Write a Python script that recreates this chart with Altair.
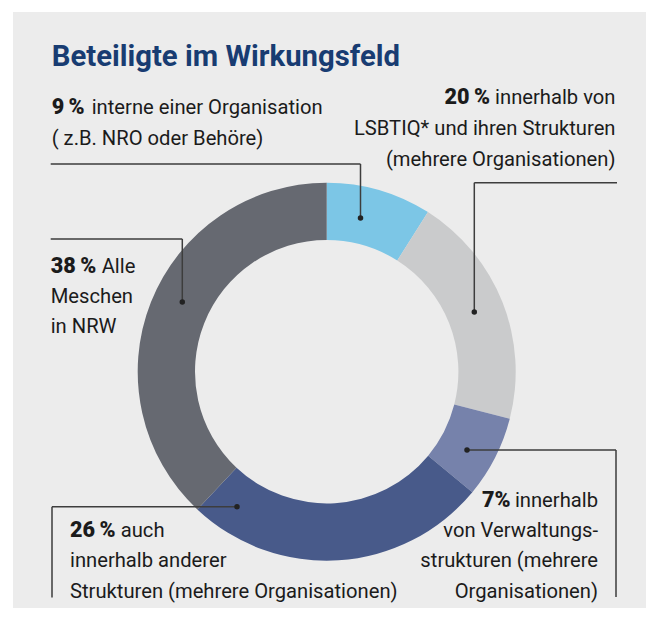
import altair as alt
import pandas as pd

# ---- data ----
categories = [
    "interne einer Organisation",
    "innerhalb von LSBTIQ* und ihren Strukturen",
    "innerhalb von Verwaltungsstrukturen",
    "auch innerhalb anderer Strukturen",
    "Alle Meschen in NRW",
]
shares = [9, 20, 7, 26, 38]
colors = ["#7cc6e6", "#cacbcc", "#7682ab", "#485a8a", "#666971"]

title_text = "Beteiligte im Wirkungsfeld"
pct_labels = ["9\u2009%", "20\u2009%", "7%", "26\u2009%", "38\u2009%"]

# ---- layout (chart pixel coords; page = chart + 8) ----
W, H = 638, 600
OFF = 8
def P(v):
    return v - OFF

CX, CY = P(326.7), P(371.7)
R_OUT, R_IN = 189, 131.7
FONT = "Roboto"
FS = 20.2
FS_BOLD = 21.6
TXT = "#1b1b1b"
LINE = "#3d3d3d"

arc_df = pd.DataFrame({"cat": categories, "value": shares, "idx": list(range(len(shares)))})

bold_left = pd.DataFrame([
    {"x": P(51.7), "y": P(114.3), "t": pct_labels[0]},
    {"x": P(70), "y": P(537.3), "t": pct_labels[3]},
    {"x": P(50.7), "y": P(272.7), "t": pct_labels[4]},
])
bold_right = pd.DataFrame([
    {"x": P(490), "y": P(104), "t": pct_labels[1]},
    {"x": P(510.5), "y": P(507), "t": pct_labels[2]},
])
reg_left = pd.DataFrame([
    {"x": P(91.7), "y": P(114.3), "t": "interne einer Organisation"},
    {"x": P(51.7), "y": P(144.5), "t": "( z.B. NRO oder Behöre)"},
    {"x": P(101.7), "y": P(272.7), "t": "Alle"},
    {"x": P(50.7), "y": P(302.7), "t": "Meschen"},
    {"x": P(50.7), "y": P(332.7), "t": "in NRW"},
    {"x": P(120.7), "y": P(537.3), "t": "auch"},
    {"x": P(70), "y": P(567.3), "t": "innerhalb anderer"},
    {"x": P(70), "y": P(598), "t": "Strukturen (mehrere Organisationen)"},
])
reg_right = pd.DataFrame([
    {"x": P(615.5), "y": P(104), "t": "innerhalb von"},
    {"x": P(615.5), "y": P(135), "t": "LSBTIQ* und ihren Strukturen"},
    {"x": P(615.5), "y": P(165.5), "t": "(mehrere Organisationen)"},
    {"x": P(598), "y": P(507), "t": "innerhalb"},
    {"x": P(598), "y": P(537), "t": "von Verwaltungs-"},
    {"x": P(598), "y": P(567), "t": "strukturen (mehrere"},
    {"x": P(598), "y": P(598), "t": "Organisationen)"},
])

segs = pd.DataFrame([
    {"x": P(50.7), "y": P(164), "x2": P(360.5), "y2": P(164)},
    {"x": P(360.5), "y": P(164), "x2": P(360.5), "y2": P(218)},
    {"x": P(617), "y": P(182.7), "x2": P(474.3), "y2": P(182.7)},
    {"x": P(474.3), "y": P(182.7), "x2": P(474.3), "y2": P(312)},
    {"x": P(50.7), "y": P(239), "x2": P(182.3), "y2": P(239)},
    {"x": P(182.3), "y": P(239), "x2": P(182.3), "y2": P(302)},
    {"x": P(237), "y": P(506.7), "x2": P(52), "y2": P(506.7)},
    {"x": P(52), "y": P(506.7), "x2": P(52), "y2": P(597.5)},
    {"x": P(467), "y": P(450), "x2": P(616), "y2": P(450)},
    {"x": P(616), "y": P(450), "x2": P(616), "y2": P(597)},
])
dots = pd.DataFrame([
    {"x": P(360.5), "y": P(218)},
    {"x": P(474.3), "y": P(312)},
    {"x": P(182.3), "y": P(302)},
    {"x": P(237), "y": P(506.7)},
    {"x": P(467), "y": P(450)},
])

X = lambda f: alt.X(f, type="quantitative", scale=None, axis=None)
Y = lambda f: alt.Y(f, type="quantitative", scale=None, axis=None)

panel = alt.Chart(pd.DataFrame({"a": [0]})).mark_rect(color="#ececec").encode(
    x=alt.value(P(13)), x2=alt.value(W), y=alt.value(P(12)), y2=alt.value(H)
)

donut = alt.Chart(arc_df).mark_arc(innerRadius=R_IN, outerRadius=R_OUT).encode(
    theta=alt.Theta("value:Q", stack=True),
    color=alt.Color("cat:N", scale=alt.Scale(domain=categories, range=colors), legend=None),
    order=alt.Order("idx:Q"),
    x=alt.value(CX),
    y=alt.value(CY),
)

rules = alt.Chart(segs).mark_rule(color=LINE, strokeWidth=1.5).encode(
    x=X("x"), y=Y("y"), x2="x2", y2="y2"
)
dot_layer = alt.Chart(dots).mark_circle(color="#222222", opacity=1, size=30).encode(
    x=X("x"), y=Y("y")
)

title = alt.Chart(pd.DataFrame({"t": [title_text]})).mark_text(
    font=FONT, fontSize=29.3, fontWeight="bold", color="#183c72",
    align="left", baseline="alphabetic"
).encode(x=alt.value(P(51.7)), y=alt.value(P(65.7)), text="t:N")

t_bold = alt.Chart(bold_left).mark_text(
    font=FONT, fontSize=FS_BOLD, fontWeight=900, color=TXT, align="left", baseline="alphabetic"
).encode(x=X("x"), y=Y("y"), text="t:N")
t_bold_r = alt.Chart(bold_right).mark_text(
    font=FONT, fontSize=FS_BOLD, fontWeight=900, color=TXT, align="right", baseline="alphabetic"
).encode(x=X("x"), y=Y("y"), text="t:N")
t_left = alt.Chart(reg_left).mark_text(
    font=FONT, fontSize=FS, color=TXT, align="left", baseline="alphabetic"
).encode(x=X("x"), y=Y("y"), text="t:N")
t_right = alt.Chart(reg_right).mark_text(
    font=FONT, fontSize=FS, color=TXT, align="right", baseline="alphabetic"
).encode(x=X("x"), y=Y("y"), text="t:N")

chart = alt.layer(panel, donut, rules, dot_layer, title, t_bold, t_bold_r, t_left, t_right).properties(
    width=W, height=H, padding=0, background="#ffffff",
    autosize=alt.AutoSizeParams(type="none"),
).configure_view(stroke=None)

chart.save("out.html", embed_options={"renderer": "svg", "actions": False})
